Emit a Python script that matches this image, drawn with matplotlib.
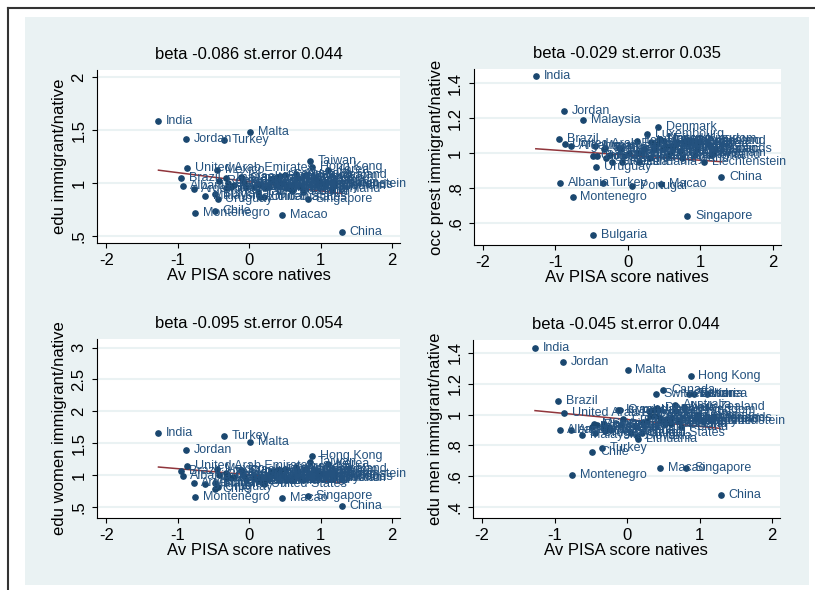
import matplotlib.pyplot as plt
from matplotlib.patches import Rectangle
import numpy as np

plt.rcParams['font.family'] = ['Liberation Sans', 'DejaVu Sans']

# countries and Av PISA score of natives (standardised)
countries = ["India", "Brazil", "Albania", "Jordan", "United Arab Emirates",
             "Argentina", "Montenegro", "Malaysia", "Chile", "Bulgaria",
             "Uruguay", "Romania", "Serbia", "Turkey", "Greece", "Israel",
             "Croatia", "Russia", "Malta", "Portugal", "Italy", "Lithuania",
             "Slovakia", "Spain", "United States", "Luxembourg", "Hungary",
             "Iceland", "Sweden", "Latvia", "Norway", "Denmark",
             "Czech Republic", "France", "Macao", "Canada", "Switzerland",
             "United Kingdom", "Austria", "Slovenia", "Belgium", "Ireland",
             "Germany", "Poland", "Australia", "New Zealand", "Netherlands",
             "Estonia", "Liechtenstein", "Taiwan", "Singapore", "Hong Kong",
             "Korea", "Japan", "Finland", "China", "Mexico", "Thailand",
             "Costa Rica", "Kazakhstan", "Cyprus", "Scotland", "Vietnam",
             "Qatar"]
pisa = [-1.27, -0.95, -0.93, -0.88, -0.87, -0.78, -0.76, -0.62, -0.48, -0.48,
        -0.44, -0.42, -0.32, -0.35, -0.22, -0.12, -0.05, -0.08, 0.01, 0.06,
        0.12, 0.15, 0.14, 0.22, 0.20, 0.27, 0.30, 0.32, 0.38, 0.36, 0.45,
        0.42, 0.48, 0.52, 0.46, 0.50, 0.40, 0.43, 0.55, 0.58, 0.62, 0.68,
        0.72, 0.75, 0.66, 0.78, 0.95, 0.92, 1.05, 0.85, 0.82, 0.88, 1.10,
        1.20, 1.15, 1.29, -0.45, -0.33, -0.30, -0.25, -0.10, 0.60, 1.18,
        0.98]

edu = [1.59, 1.05, 0.97, 1.42, 1.14, 0.94, 0.72, 0.88, 0.74, 0.90, 0.85,
       1.02, 0.95, 1.41, 0.98, 1.06, 0.96, 1.00, 1.48, 0.96, 0.92, 0.87,
       0.98, 0.95, 0.87, 0.96, 1.04, 1.02, 0.98, 1.05, 0.99, 1.03, 1.00,
       0.95, 0.70, 1.08, 1.06, 1.07, 0.97, 0.94, 0.99, 1.05, 0.96, 0.92,
       1.09, 1.08, 0.98, 1.04, 0.99, 1.21, 0.85, 1.15, 1.12, 1.00, 0.94,
       0.54, 1.12, 1.05, 1.00, 0.96, 1.05, 0.93, 0.97, 1.02]
occ = [1.44, 1.08, 0.83, 1.24, 1.05, 1.04, 0.75, 1.19, 0.98, 0.53, 0.92,
       0.98, 1.03, 0.83, 0.95, 1.03, 0.98, 0.95, 1.00, 0.81, 1.07, 0.95,
       1.00, 1.02, 1.00, 1.11, 0.97, 1.06, 1.04, 1.02, 1.08, 1.15, 1.02,
       1.04, 0.82, 1.07, 1.05, 1.08, 0.98, 1.00, 1.03, 1.06, 1.01, 0.97,
       1.05, 1.07, 1.02, 0.99, 0.95, 1.06, 0.64, 1.07, 1.05, 1.02, 0.99,
       0.86, 1.04, 1.02, 0.97, 0.99, 1.02, 1.04, 1.00, 1.06]
edu_women = [1.66, 1.07, 0.99, 1.40, 1.14, 0.88, 0.66, 0.86, 0.78, 0.87,
             0.82, 1.00, 0.95, 1.61, 0.97, 1.08, 0.93, 0.98, 1.52, 0.95,
             0.90, 0.90, 0.95, 0.93, 0.86, 0.94, 1.05, 1.00, 0.98, 1.06,
             1.00, 1.02, 0.98, 0.93, 0.64, 1.10, 1.08, 1.08, 0.95, 0.92,
             0.98, 1.07, 0.95, 0.92, 1.12, 1.10, 0.97, 1.06, 1.01, 1.20,
             0.67, 1.30, 1.17, 1.02, 0.95, 0.52, 1.10, 1.04, 0.98, 0.95,
             1.06, 0.92, 0.96, 1.03]
edu_men = [1.43, 1.09, 0.90, 1.34, 1.01, 0.90, 0.61, 0.87, 0.76, 0.92, 0.88,
           0.93, 0.94, 0.78, 0.90, 1.03, 0.97, 0.93, 1.29, 0.88, 0.92, 0.84,
           0.86, 0.95, 0.88, 0.96, 1.02, 0.99, 0.99, 1.03, 0.98, 1.04, 0.96,
           0.94, 0.65, 1.16, 1.13, 1.03, 0.97, 0.95, 0.98, 1.02, 0.96, 0.92,
           1.06, 1.05, 0.98, 1.13, 0.96, 1.13, 0.65, 1.25, 1.13, 0.99, 0.97,
           0.48, 0.94, 0.91, 0.89, 0.92, 1.03, 0.94, 0.97, 1.00]

ylabels = ["edu immigrant/native", "occ prest immigrant/native",
           "edu women immigrant/native", "edu men immigrant/native"]
betas = [-0.086, -0.029, -0.095, -0.045]
st_errors = [0.044, 0.035, 0.054, 0.044]
intercepts = [1.013, 0.987, 1.006, 0.968]
yticks = [[0.5, 1, 1.5, 2], [0.6, 0.8, 1, 1.2, 1.4],
          [0.5, 1, 1.5, 2, 2.5, 3], [0.4, 0.6, 0.8, 1, 1.2, 1.4]]
yticklabels = [[".5", "1", "1.5", "2"], [".6", ".8", "1", "1.2", "1.4"],
               [".5", "1", "1.5", "2", "2.5", "3"],
               [".4", ".6", ".8", "1", "1.2", "1.4"]]
ylims = [(0.434, 2.066), (0.474, 1.48), (0.327, 3.14), (0.329, 1.484)]
xticks = [-2, -1, 0, 1, 2]

navy = '#1a476f'
maroon = '#90353b'
bg = '#eaf2f3'

fig = plt.figure(figsize=(8.15, 5.9), dpi=100)
fig.patches.append(Rectangle((25 / 815, 1 - 585 / 590), 784 / 815, 568 / 590,
                             transform=fig.transFigure, facecolor=bg,
                             edgecolor='none', zorder=-10))
# outer frame (top and left)
fig.add_artist(plt.Line2D([8 / 815, 1], [1 - 8 / 590, 1 - 8 / 590],
                          transform=fig.transFigure, color='#333333', lw=1.5))
fig.add_artist(plt.Line2D([8 / 815, 8 / 815], [0, 1 - 8 / 590],
                          transform=fig.transFigure, color='#333333', lw=1.5))

positions = [(0.119, 0.588, 0.372, 0.293), (0.581, 0.585, 0.377, 0.298),
             (0.119, 0.122, 0.372, 0.304), (0.580, 0.122, 0.377, 0.302)]
series = [edu, occ, edu_women, edu_men]
x = np.array(pisa)

for i in range(4):
    ax = fig.add_axes(positions[i])
    ax.set_facecolor('white')
    y = np.array(series[i])
    for t in yticks[i]:
        ax.axhline(t, color=bg, lw=1.5, zorder=0)
    xx = np.sort(x)
    ax.plot(xx, intercepts[i] + betas[i] * xx, color=maroon, lw=1.1, zorder=2)
    ax.plot(x, y, 'o', color=navy, markersize=3.8, zorder=3)
    for name, xi, yi in zip(countries, x, y):
        ax.annotate(name, (xi, yi), xytext=(5.5, 0), textcoords='offset points',
                    fontsize=9, color='#24527f', va='center', ha='left',
                    zorder=3)
    ax.set_xlim(-2.13, 2.11)
    ax.set_ylim(*ylims[i])
    ax.set_xticks(xticks)
    ax.set_xticklabels([str(t) for t in xticks])
    ax.set_yticks(yticks[i])
    ax.set_yticklabels(yticklabels[i], rotation=90, va='center')
    for s in ['top', 'right']:
        ax.spines[s].set_visible(False)
    for s in ['left', 'bottom']:
        ax.spines[s].set_linewidth(0.8)
    ax.tick_params(direction='out', length=3.5, width=0.8, labelsize=12,
                   pad=4)
    ax.set_xlabel("Av PISA score natives", fontsize=12, labelpad=0)
    ax.set_ylabel(ylabels[i], fontsize=12, labelpad=3)
    ax.set_title("beta %.3f st.error %.3f" % (betas[i], st_errors[i]),
                 fontsize=12, pad=8)

fig.savefig("out.png", dpi=100)
